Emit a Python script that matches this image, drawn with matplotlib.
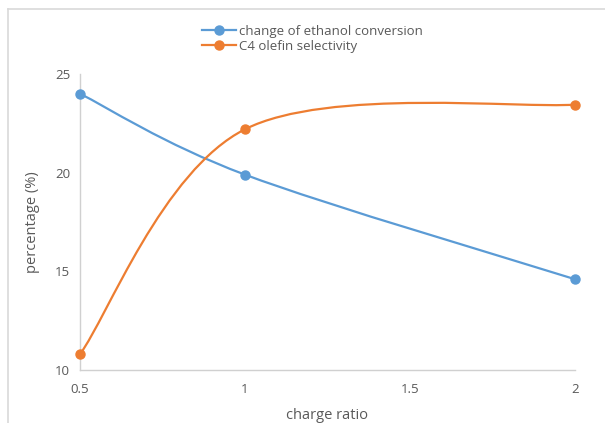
import matplotlib
matplotlib.use("Agg")
import matplotlib.pyplot as plt
from matplotlib.path import Path
from matplotlib.patches import PathPatch
from matplotlib.lines import Line2D
import numpy as np

charge_ratio = [0.5, 1, 2]
ethanol_conversion = [24.0, 19.9, 14.6]
c4_selectivity = [10.8, 22.2, 23.45]
series_names = ["change of ethanol conversion", "C4 olefin selectivity"]
x_ticks = [0.5, 1, 1.5, 2]
y_ticks = [10, 15, 20, 25]

BLUE = "#5B9BD5"
ORANGE = "#ED7D31"
GRAY = "#595959"

plt.rcParams['font.family'] = ['Open Sans', 'DejaVu Sans']

fig = plt.figure(figsize=(6.05, 4.23), dpi=100)
ax = fig.add_axes([80/605, 53/423, 495/605, 296/423])


def smooth_path(xs, ys):
    pts = np.column_stack([xs, ys]).astype(float)
    n = len(pts)
    verts = [pts[0]]
    codes = [Path.MOVETO]
    for i in range(n - 1):
        p0 = pts[i - 1] if i > 0 else pts[i]
        p1 = pts[i]
        p2 = pts[i + 1]
        p3 = pts[i + 2] if i + 2 < n else pts[i + 1]
        c1 = p1 + (p2 - p0) / 6.0
        c2 = p2 - (p3 - p1) / 6.0
        verts += [c1, c2, p2]
        codes += [Path.CURVE4] * 3
    return Path(verts, codes)


for ys, col in [(ethanol_conversion, BLUE), (c4_selectivity, ORANGE)]:
    patch = PathPatch(smooth_path(charge_ratio, ys), facecolor='none',
                      edgecolor=col, lw=1.6, capstyle='round', joinstyle='round')
    ax.add_patch(patch)
    ax.plot(charge_ratio, ys, linestyle='none', marker='o', markersize=6.5,
            color=col, clip_on=False, zorder=3)

ax.set_xlim(0.5, 2)
ax.set_ylim(10, 25)
ax.set_xticks(x_ticks)
ax.set_xticklabels([f"{v:g}" for v in x_ticks])
ax.set_yticks(y_ticks)
ax.tick_params(length=0, colors=GRAY, labelsize=9.5)
ax.tick_params(axis='x', pad=9)
ax.tick_params(axis='y', pad=7)
for s in ['top', 'right']:
    ax.spines[s].set_visible(False)
for s in ['left', 'bottom']:
    ax.spines[s].set_color('#d0d0d0')
    ax.spines[s].set_linewidth(1.0)

ax.set_xlabel("charge ratio", fontsize=10.5, color=GRAY, labelpad=9)
ax.set_ylabel("percentage (%)", fontsize=10.5, color=GRAY, labelpad=11)

handles = [Line2D([], [], color=BLUE, lw=1.6, marker='o', markersize=6.5),
           Line2D([], [], color=ORANGE, lw=1.6, marker='o', markersize=6.5)]
fig.legend(handles, series_names, loc='upper left',
           bbox_to_anchor=(195/605, 1 - 18/423), frameon=False,
           fontsize=9.5, labelcolor=GRAY, handlelength=2.6, handletextpad=0.2,
           labelspacing=0.15, borderpad=0)

# chart border (top and left edges visible)
fig.add_artist(Line2D([8/605, 8/605], [0, 1 - 9/423], transform=fig.transFigure,
                      color='#d9d9d9', lw=1.2))
fig.add_artist(Line2D([8/605, 1], [1 - 9/423, 1 - 9/423], transform=fig.transFigure,
                      color='#d9d9d9', lw=1.2))

fig.savefig("out.png", dpi=100)
